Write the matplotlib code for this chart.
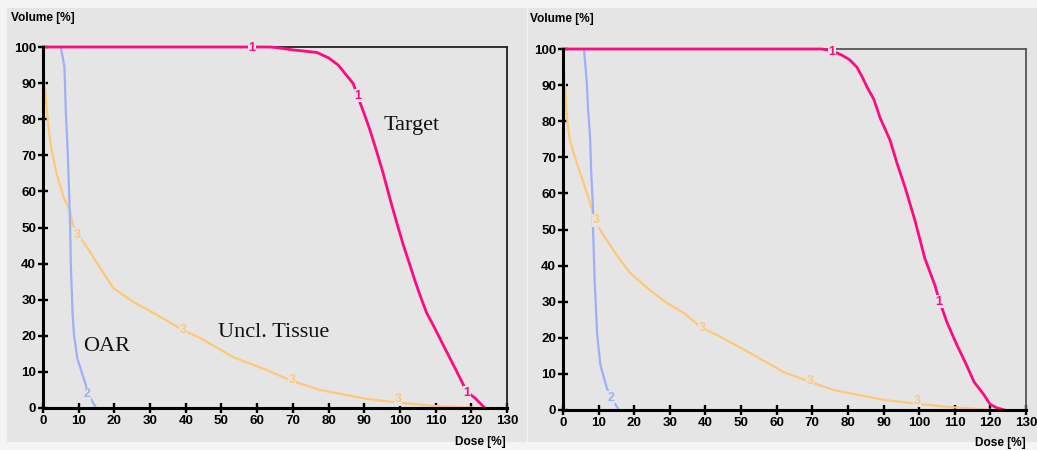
import matplotlib
matplotlib.use("Agg")
import matplotlib.pyplot as plt
from matplotlib.patches import Rectangle

# ---- data: cumulative dose-volume histograms (dose %, volume %) ----
# Plan A (left)
a_target_dose = [0, 63.6, 65.6, 70, 76.7, 80, 82.7, 84.5, 86.9, 88.3, 90, 91.6, 93.5, 95.3,
                 97.2, 99.2, 101, 102.8, 104.2, 105.6, 107.5, 109.3, 112.1, 115, 117.4, 118.7,
                 121, 123.8]
a_target_vol = [100, 100, 99.8, 99.2, 98.5, 97, 95, 92.8, 89.9, 86, 81.5, 77, 71, 65,
                58, 51, 45, 39.6, 35.3, 31.3, 26.3, 23, 17.5, 11.9, 7.2, 4.5, 2.8, 0]
a_oar_dose = [5.0, 6.0, 6.4, 6.9, 7.3, 7.6, 7.8, 8.3, 8.7, 9.6, 10.8, 12.0, 12.4, 14.9]
a_oar_vol = [100, 94.5, 82, 71.5, 60.4, 50.7, 39.6, 25.8, 20.2, 13.8, 10, 6.4, 4.2, 0]
a_tis_dose = [0, 0.84, 1.5, 2.4, 3.8, 5.7, 7.6, 8.4, 9.5, 12.3, 16, 19.7, 25.3, 31.9, 39.3,
              44, 53.3, 62.7, 69.7, 77.6, 90.7, 99.6, 109.3, 123]
a_tis_vol = [95, 85.3, 78, 71.5, 65, 58.5, 54.4, 50.7, 48.4, 44.6, 38.8, 33.2, 29.4, 25.8, 21.5,
             19.4, 14.1, 10.5, 7.5, 5, 2.5, 1.5, 0.6, 0]

# Plan B (right)
b_target_dose = [0, 72.7, 75.5, 78.3, 80.5, 82.5, 84, 85.3, 87.3, 89, 91.8, 93.8, 96, 98.8,
                 101.6, 104.4, 105.6, 107.8, 110.6, 112.9, 115.4, 118.2, 119.9, 121.8, 124]
b_target_vol = [100, 100, 99.5, 98.3, 97, 95, 92.3, 89.6, 86, 81, 74.8, 68.3, 61.8, 52.6,
                42, 34.6, 30.5, 24.3, 18, 13.3, 7.8, 4.2, 1.6, 0.6, 0]
b_oar_dose = [5.9, 6.7, 7.0, 7.6, 7.9, 8.4, 8.4, 8.9, 9.6, 10.5, 12.3, 13.5, 15.7]
b_oar_vol = [100, 90.5, 84, 75.6, 66.5, 56.2, 51.2, 35.5, 20.8, 12.5, 6.1, 3.4, 0]
b_tis_dose = [0, 0.5, 1.1, 1.9, 3.9, 5.8, 7.6, 9.0, 10.4, 15.1, 18.9, 24.4, 29.2, 33.9, 39,
              43.2, 52.5, 62, 69.3, 76.1, 90.1, 99.4, 108.7, 121]
b_tis_vol = [96, 90.5, 81, 74.8, 68.3, 62.8, 57.3, 53, 49.9, 42.9, 37.9, 33.2, 29.6, 26.9, 22.7,
             20.8, 15.8, 10.5, 7.8, 5.5, 2.8, 1.7, 0.8, 0]

# curve-number labels (dose, volume, text) placed along each curve
a_marks = [(58.5, 99.6, "1"), (88.3, 86.5, "1"), (118.7, 4.2, "1"), (12.4, 3.8, "2"),
           (9.5, 48.0, "3"), (39.3, 21.6, "3"), (69.7, 7.8, "3"), (99.6, 2.4, "3")]
b_marks = [(75.5, 99.3, "1"), (105.6, 30.0, "1"), (13.5, 3.4, "2"),
           (9.3, 52.5, "3"), (39.0, 22.8, "3"), (69.3, 7.9, "3"), (99.4, 2.5, "3")]

x_ticks = list(range(0, 131, 10))
y_ticks = list(range(0, 101, 10))

C_TARGET = "#ff0a80"
C_OAR = "#9db0f7"
C_TISSUE = "#ffc878"
BG = "#e5e5e5"
UI_FONT = "Liberation Sans"

W, H = 1037, 450
fig = plt.figure(figsize=(W / 100, H / 100), dpi=100)
fig.patch.set_facecolor("#f4f4f4")

# grey window panels, kept behind the axes
fig.patches.append(Rectangle((7 / W, 8 / H), 520 / W, 434 / H, transform=fig.transFigure,
                             facecolor=BG, edgecolor="none", zorder=-10))
fig.patches.append(Rectangle((528 / W, 8 / H), 509 / W, 434 / H, transform=fig.transFigure,
                             facecolor=BG, edgecolor="none", zorder=-10))


def panel(rect, tgt, oar, tis, marks, frame_col):
    ax = fig.add_axes(rect)
    ax.set_facecolor(BG)
    ax.set_xlim(0, 130)
    ax.set_ylim(0, 100)
    ax.plot(tis[0], tis[1], color=C_TISSUE, lw=1.6, zorder=3, clip_on=False)
    ax.plot(oar[0], oar[1], color=C_OAR, lw=1.6, zorder=3, clip_on=False)
    ax.plot(tgt[0], tgt[1], color=C_TARGET, lw=2.0, zorder=4, clip_on=False)
    cols = {"1": C_TARGET, "2": C_OAR, "3": C_TISSUE}
    for x, y, t in marks:
        ax.text(x, y, t, color=cols[t], fontsize=9, fontweight="bold", family=UI_FONT,
                ha="center", va="center", zorder=6, clip_on=False,
                bbox=dict(facecolor=BG, edgecolor="none", pad=0.4))
    for s in ("left", "bottom"):
        ax.spines[s].set_linewidth(2.2)
        ax.spines[s].set_color("black")
        ax.spines[s].set_zorder(8)
    for s in ("top", "right"):
        ax.spines[s].set_linewidth(1.3)
        ax.spines[s].set_color(frame_col)
    ax.set_xticks(x_ticks)
    ax.set_yticks(y_ticks)
    ax.tick_params(direction="inout", length=7, width=1.7, color="black", pad=1.5)
    for lab in ax.get_xticklabels() + ax.get_yticklabels():
        lab.set_fontweight("bold")
        lab.set_family(UI_FONT)
        lab.set_fontsize(9.6)
    return ax


axL = panel([43 / W, (H - 408) / H, 464 / W, 361 / H],
            (a_target_dose, a_target_vol), (a_oar_dose, a_oar_vol), (a_tis_dose, a_tis_vol),
            a_marks, "#222222")
axR = panel([563 / W, (H - 410) / H, 463 / W, 361 / H],
            (b_target_dose, b_target_vol), (b_oar_dose, b_oar_vol), (b_tis_dose, b_tis_vol),
            b_marks, "#555555")

# axis captions
cap = dict(fontsize=8.6, fontweight="bold", family=UI_FONT, va="center")
fig.text(11 / W, 1 - 18 / H, "Volume [%]", ha="left", **cap)
fig.text(506 / W, 1 - 442 / H, "Dose [%]", ha="right", **cap)
fig.text(530 / W, 1 - 19 / H, "Volume [%]", ha="left", **cap)
fig.text(1026 / W, 1 - 443 / H, "Dose [%]", ha="right", **cap)

# structure names
serif = dict(family="Liberation Serif", fontsize=16, color="#111111", zorder=7)
axL.text(95.3, 77, "Target", ha="left", va="baseline", **serif)
axL.text(11.2, 15.8, "OAR", ha="left", va="baseline", **serif)
axL.text(49, 19.7, "Uncl. Tissue", ha="left", va="baseline", **serif)

fig.savefig("out.png", dpi=100, facecolor=fig.get_facecolor())
